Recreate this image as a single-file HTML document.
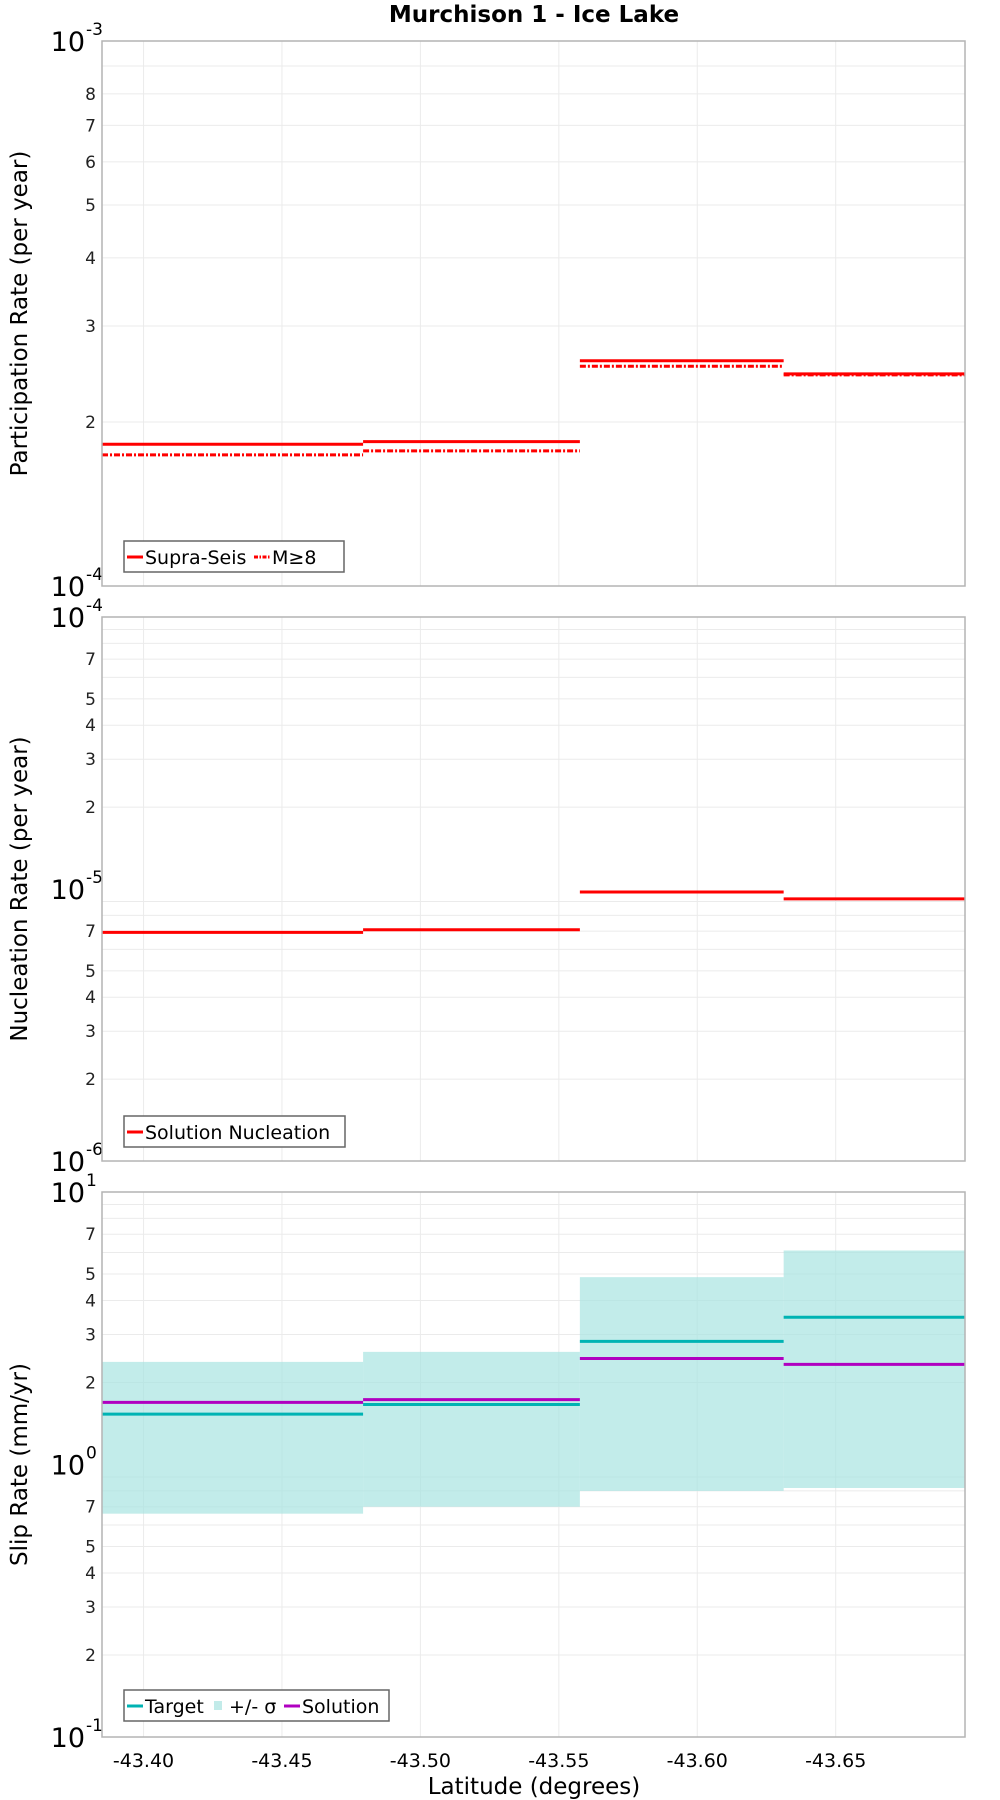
<!DOCTYPE html>
<html><head><meta charset="utf-8"><style>
html,body{margin:0;padding:0;background:#fff;}
svg{display:block;font-family:"DejaVu Sans","Liberation Sans",sans-serif;}
</style></head><body>
<svg id="chart" width="1000" height="1800" viewBox="0 0 1000 1800" xmlns="http://www.w3.org/2000/svg">
<text x="534" y="22" text-anchor="middle" font-size="23" font-weight="bold">Murchison 1 - Ice Lake</text>
<g id="g"></g>
</svg>
<script>
// data
const segEdges = [-43.385, -43.4793, -43.5576, -43.6312, -43.6967];
const xTicks = [-43.40, -43.45, -43.50, -43.55, -43.60, -43.65];
const xTickLabels = ["-43.40", "-43.45", "-43.50", "-43.55", "-43.60", "-43.65"];
const supraSeis = [1.82e-4, 1.84e-4, 2.59e-4, 2.45e-4];
const m8 = [1.74e-4, 1.77e-4, 2.53e-4, 2.44e-4];
const nucleation = [6.93e-6, 7.08e-6, 9.75e-6, 9.2e-6];
const target = [1.53, 1.66, 2.83, 3.47];
const solution = [1.69, 1.73, 2.45, 2.33];
const sigmaUpper = [2.38, 2.59, 4.87, 6.1];
const sigmaLower = [0.66, 0.70, 0.80, 0.82];

const NS = "http://www.w3.org/2000/svg";
const g = document.getElementById('g');
const X0 = 102, X1 = 965;
const xMin = segEdges[0], xMax = segEdges[segEdges.length - 1];
function xs(v) { return X0 + (v - xMin) / (xMax - xMin) * (X1 - X0); }
function mk(tag, attrs, parent) {
  const e = document.createElementNS(NS, tag);
  for (const k in attrs) e.setAttribute(k, attrs[k]);
  (parent || g).appendChild(e);
  return e;
}

function panel(name, top, bot, lo, hi, minorLabels, title) {
  const ys = v => bot - (Math.log10(v) - lo) / (hi - lo) * (bot - top);
  const pg = mk('g', {});
  
  
  for (let d = lo; d < hi; d++) {
    for (let m = 1; m <= 9; m++) {
      const v = m * Math.pow(10, d);
      const y = ys(v);
      if (m > 1) {
        const gl = mk('line', {x1: X0, x2: X1, y1: y, y2: y, stroke: '#ebebeb', 'stroke-width': 1}, pg);
        
        
        if (minorLabels.includes(m)) {
          const t = mk('text', {x: 96, y: y + 6, 'text-anchor': 'end', 'font-size': 17, fill: '#222'}, pg);
          t.textContent = m;
          
          
        }
      }
    }
  }
  for (let d = lo; d <= hi; d++) {
    const y = ys(Math.pow(10, d));
    const t = mk('text', {x: 85, y: y + 10, 'text-anchor': 'end', 'font-size': 27}, pg);
    t.textContent = '10';
    
    
    const s = mk('text', {x: 86, y: y - 6, 'font-size': 17}, pg);
    s.textContent = String(d);
    
    
  }
  xTicks.forEach(v => {
    const l = mk('line', {x1: xs(v), x2: xs(v), y1: top, y2: bot, stroke: '#ebebeb', 'stroke-width': 1}, pg);
    
    
  });
  const yt = mk('text', {x: 0, y: 0, 'text-anchor': 'middle', 'font-size': 23, transform: `translate(27,${(top + bot) / 2}) rotate(-90)`}, pg);
  yt.textContent = title;
  
  
  return {ys, pg, top, bot};
}

function segLines(p, vals, color, dash, name) {
  vals.forEach((v, i) => {
    const l = mk('line', {x1: xs(segEdges[i]), x2: xs(segEdges[i + 1]), y1: p.ys(v), y2: p.ys(v), stroke: color, 'stroke-width': 3}, p.pg);
    if (dash) l.setAttribute('stroke-dasharray', dash);
    
    
  });
}
function frame(p) {
  const r = mk('rect', {x: X0, y: p.top, width: X1 - X0, height: p.bot - p.top, fill: 'none', stroke: '#b4b4b4', 'stroke-width': 1.5}, p.pg);
  
  
}
function legend(p, x, y, w, items) {
  const lg = mk('g', {}, p.pg);
  
  
  mk('rect', {x: x, y: y, width: w, height: 31, fill: '#fff', stroke: '#666', 'stroke-width': 1.5}, lg);
  let cx = x + 3;
  items.forEach(it => {
    const e = mk('g', {}, lg);
    
    
    if (it.fill) mk('rect', {x: cx + 3, y: y + 11, width: 8, height: 9, fill: it.color}, e);
    else {
      const l = mk('line', {x1: cx, x2: cx + 16, y1: y + 16, y2: y + 16, stroke: it.color, 'stroke-width': 3}, e);
      if (it.dash) l.setAttribute('stroke-dasharray', it.dash);
    }
    const t = mk('text', {x: cx + 18, y: y + 23, 'font-size': 19}, e);
    t.textContent = it.label;
    cx += it.w;
  });
}

// Panel 1
const p1 = panel('participation', 41, 586, -4, -3, [2, 3, 4, 5, 6, 7, 8], 'Participation Rate (per year)');
segLines(p1, supraSeis, '#ff0000', null, 'supra-seis');
segLines(p1, m8, '#ff0000', '6,2,2,2', 'm8');
frame(p1);
legend(p1, 124, 541, 220, [{color: '#f00', label: 'Supra-Seis', w: 127}, {color: '#f00', dash: '4,1.5,1.5,1.5', label: 'M≥8', w: 80}]);

// Panel 2
const p2 = panel('nucleation', 617, 1161, -6, -4, [2, 3, 4, 5, 7], 'Nucleation Rate (per year)');
segLines(p2, nucleation, '#ff0000', null, 'nucleation');
frame(p2);
legend(p2, 124, 1116, 221, [{color: '#f00', label: 'Solution Nucleation', w: 210}]);

// Panel 3
const p3 = panel('slip', 1192, 1737, -1, 1, [2, 3, 4, 5, 7], 'Slip Rate (mm/yr)');
sigmaUpper.forEach((u, i) => {
  const r = mk('rect', {x: xs(segEdges[i]), y: p3.ys(u), width: xs(segEdges[i + 1]) - xs(segEdges[i]), height: p3.ys(sigmaLower[i]) - p3.ys(u), fill: '#a4e2df', 'fill-opacity': 0.67}, p3.pg);
  
  
});
segLines(p3, target, '#00b3b3', null, 'target');
segLines(p3, solution, '#b000c0', null, 'solution');
frame(p3);
legend(p3, 124, 1690, 265, [{color: '#00b3b3', label: 'Target', w: 84}, {color: '#c2ebe9', fill: true, label: '+/- σ', w: 73}, {color: '#b000c0', label: 'Solution', w: 100}]);

// X axis
xTicks.forEach((v, i) => {
  const t = mk('text', {x: xs(v), y: 1767, 'text-anchor': 'middle', 'font-size': 19});
  t.textContent = xTickLabels[i];
  
  
});
const xt = mk('text', {x: 534, y: 1794, 'text-anchor': 'middle', 'font-size': 23});
xt.textContent = 'Latitude (degrees)';


</script>
</body></html>
